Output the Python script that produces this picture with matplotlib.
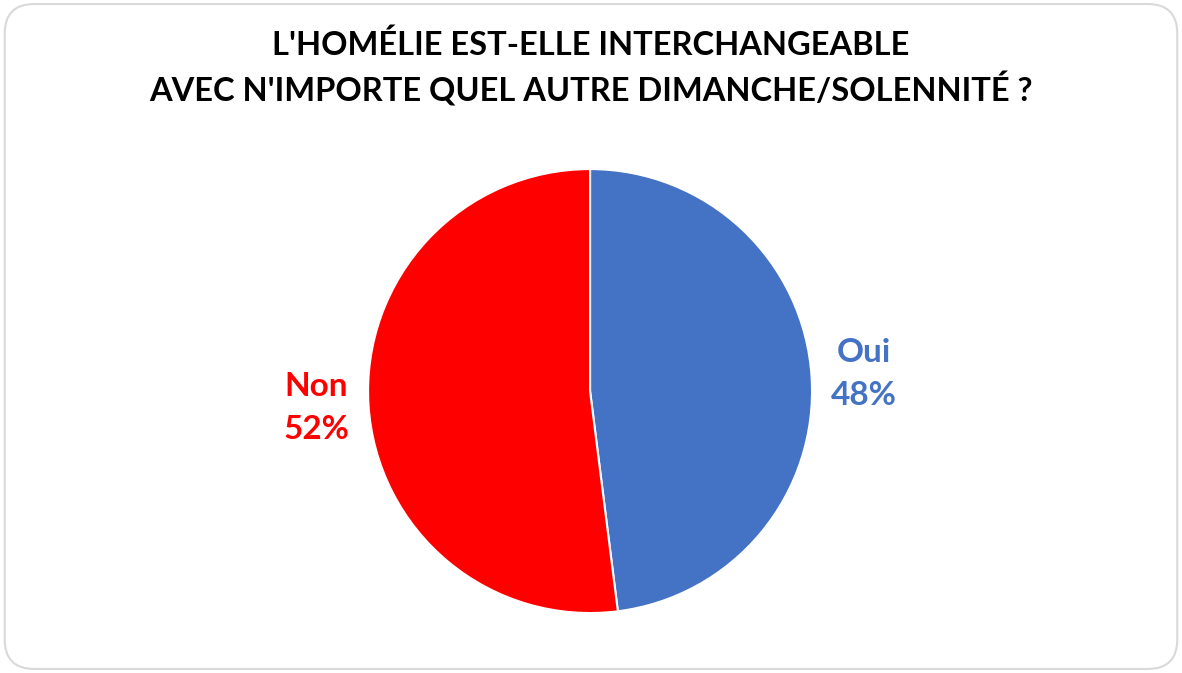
import matplotlib
matplotlib.use("Agg")
import matplotlib.pyplot as plt
from matplotlib.patches import FancyBboxPatch

title = "L'HOMÉLIE EST-ELLE INTERCHANGEABLE\nAVEC N'IMPORTE QUEL AUTRE DIMANCHE/SOLENNITÉ ?"
categories = ["Oui", "Non"]
values = [48, 52]
colors = ["#4472C4", "#FF0000"]

plt.rcParams['font.family'] = ['Lato', 'DejaVu Sans']

fig = plt.figure(figsize=(11.82, 6.73), dpi=100)
fig.patch.set_facecolor("white")

border = FancyBboxPatch((0.004, 0.006), 0.992, 0.988,
                        boxstyle="round,pad=0,rounding_size=0.025",
                        transform=fig.transFigure, fill=False,
                        edgecolor="#D9D9D9", linewidth=1.5, mutation_aspect=1182/673)
fig.patches.append(border)

fig.text(0.5, 0.899, title, ha="center", va="center", fontsize=23.5,
         fontweight="bold", color="black", linespacing=1.36)

ax = fig.add_axes([0.3114, 0.0891, 0.3756, 0.6597])
labels = [f"{c}\n{v}%" for c, v in zip(categories, values)]
wedges, texts = ax.pie(values, colors=colors, startangle=90, counterclock=False,
                       labels=labels, labeldistance=1.235,
                       wedgeprops=dict(edgecolor="white", linewidth=1.5))
for t, c in zip(texts, colors):
    t.set_color(c)
    t.set_fontsize(24)
    t.set_fontweight("bold")
    t.set_ha("center")
    t.set_va("center")
    t.set_linespacing(1.6)
ax.set_aspect("equal")
ax.set_xlim(-1, 1)
ax.set_ylim(-1, 1)

fig.savefig("out.png", dpi=100)
